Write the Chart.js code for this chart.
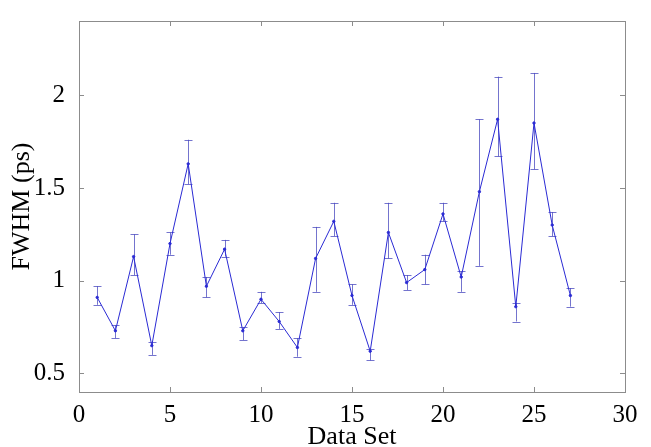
<!DOCTYPE html>
<html>
<head>
<meta charset="utf-8">
<script src="https://cdn.jsdelivr.net/npm/chart.js@4"></script>
<style>
  html, body { margin: 0; padding: 0; background: #fff; }
  #wrap { width: 651px; height: 447px; }
</style>
</head>
<body>
<div id="wrap"><canvas id="fwhmChart" width="651" height="447"></canvas></div>
<script>
// data
const dataSets = [1, 2, 3, 4, 5, 6, 7, 8, 9, 10, 11, 12, 13, 14, 15, 16, 17, 18, 19, 20, 21, 22, 23, 24, 25, 26, 27];
const fwhm = [0.91, 0.73, 1.13, 0.65, 1.20, 1.63, 0.97, 1.17, 0.73, 0.90, 0.78, 0.64, 1.12, 1.32, 0.92, 0.62, 1.26, 0.99, 1.06, 1.36, 1.02, 1.48, 1.87, 0.86, 1.85, 1.30, 0.92];
const errLow = [0.87, 0.69, 1.03, 0.60, 1.14, 1.52, 0.91, 1.13, 0.68, 0.88, 0.74, 0.59, 0.94, 1.24, 0.87, 0.57, 1.12, 0.95, 0.98, 1.32, 0.94, 1.08, 1.67, 0.78, 1.60, 1.24, 0.86];
const errHigh = [0.97, 0.76, 1.25, 0.67, 1.26, 1.76, 1.02, 1.22, 0.75, 0.94, 0.83, 0.69, 1.29, 1.42, 0.98, 0.63, 1.42, 1.03, 1.14, 1.42, 1.05, 1.87, 2.10, 0.88, 2.12, 1.37, 0.96];
const xTicks = [0, 5, 10, 15, 20, 25, 30];
const yTicks = [0.5, 1, 1.5, 2];

const axisColor = '#8c8c8c';
const tickFont = { family: '"Liberation Serif", "Times New Roman", serif', size: 25 };
const titleFont = { family: '"Liberation Serif", "Times New Roman", serif', size: 26 };

// error bars with caps, drawn under the line
const errorBars = {
    id: 'errorBars',
    beforeDatasetsDraw(chart) {
        const { ctx, scales: { x, y } } = chart;
        ctx.save();
        ctx.strokeStyle = 'rgba(70, 70, 190, 0.75)';
        ctx.lineWidth = 1;
        dataSets.forEach((d, i) => {
            const px = Math.round(x.getPixelForValue(d)) + 0.5;
            const top = y.getPixelForValue(errHigh[i]);
            const bot = y.getPixelForValue(errLow[i]);
            ctx.beginPath();
            ctx.moveTo(px, top);
            ctx.lineTo(px, bot);
            ctx.moveTo(px - 4, Math.round(top) + 0.5);
            ctx.lineTo(px + 4, Math.round(top) + 0.5);
            ctx.moveTo(px - 4, Math.round(bot) + 0.5);
            ctx.lineTo(px + 4, Math.round(bot) + 0.5);
            ctx.stroke();
        });
        ctx.restore();
    }
};

// matlab style box with inward ticks on all sides
const boxAxes = {
    id: 'boxAxes',
    afterDraw(chart) {
        const { ctx, chartArea: a, scales: { x, y } } = chart;
        ctx.save();
        ctx.strokeStyle = axisColor;
        ctx.lineWidth = 1;
        ctx.strokeRect(Math.round(a.left) + 0.5, Math.round(a.top) + 0.5,
            Math.round(a.right - a.left), Math.round(a.bottom - a.top));
        ctx.beginPath();
        xTicks.forEach(v => {
            const px = Math.round(x.getPixelForValue(v)) + 0.5;
            ctx.moveTo(px, a.bottom); ctx.lineTo(px, a.bottom - 5);
            ctx.moveTo(px, a.top); ctx.lineTo(px, a.top + 5);
        });
        yTicks.forEach(v => {
            const py = Math.round(y.getPixelForValue(v)) + 0.5;
            ctx.moveTo(a.left, py); ctx.lineTo(a.left + 5, py);
            ctx.moveTo(a.right, py); ctx.lineTo(a.right - 5, py);
        });
        ctx.stroke();
        ctx.restore();
    }
};

new Chart(document.getElementById('fwhmChart').getContext('2d'), {
    type: 'line',
    data: {
        datasets: [{
            label: 'FWHM',
            data: dataSets.map((d, i) => ({ x: d, y: fwhm[i] })),
            borderColor: '#2a2ad4',
            borderWidth: 1,
            backgroundColor: '#2a2ad4',
            pointRadius: 1.2,
            pointHoverRadius: 1.2,
            tension: 0
        }]
    },
    options: {
        responsive: false,
        animation: false,
        devicePixelRatio: 1,
        layout: { padding: { top: 10, right: 26, left: 0, bottom: 0 } },
        plugins: {
            legend: { display: false },
            tooltip: { enabled: false }
        },
        scales: {
            x: {
                type: 'linear',
                min: 0,
                max: 30,
                afterBuildTicks: s => { s.ticks = xTicks.map(v => ({ value: v })); },
                afterFit: s => { s.height = 55; },
                grid: { display: false },
                border: { display: false },
                ticks: { color: '#000', font: tickFont, padding: 0, maxRotation: 0 },
                title: { display: true, text: 'Data Set', color: '#000', font: titleFont, padding: { top: 0, bottom: -6 } }
            },
            y: {
                min: 0.4,
                max: 2.4,
                afterBuildTicks: s => { s.ticks = yTicks.map(v => ({ value: v })); },
                afterFit: s => { s.width = 79; },
                grid: { display: false },
                border: { display: false },
                ticks: { color: '#000', font: tickFont, padding: 6, callback: v => String(v) },
                title: { display: true, text: 'FWHM (ps)', color: '#000', font: titleFont, padding: { top: 7, bottom: 4 } }
            }
        }
    },
    plugins: [errorBars, boxAxes]
});
</script>
</body>
</html>
